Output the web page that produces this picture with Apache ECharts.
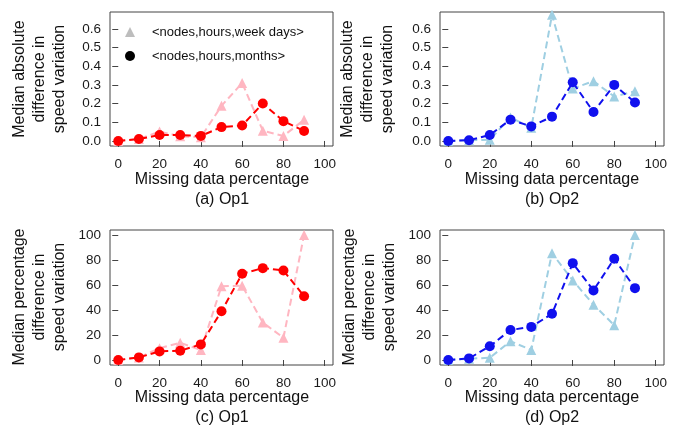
<!DOCTYPE html>
<html>
<head>
<meta charset="utf-8">
<script src="https://cdn.jsdelivr.net/npm/echarts@6/dist/echarts.min.js"></script>
<style>
  html, body { margin: 0; padding: 0; background: #fff; }
  #chart { width: 675px; height: 428px; }
</style>
</head>
<body>
<div id="chart"></div>
<script>
// Missing data percentage (x positions shared by every panel)
var missingPct = [0, 10, 20, 30, 40, 50, 60, 70, 80, 90];
var xTicks = [0, 20, 40, 60, 80, 100];
var absTicks = [0, 0.1, 0.2, 0.3, 0.4, 0.5, 0.6];
var pctTicks = [0, 20, 40, 60, 80, 100];

// Median absolute difference in speed variation
var absOp1Week  = [0, 0.01, 0.05, 0.025, 0.02, 0.188, 0.31, 0.055, 0.027, 0.113];
var absOp1Month = [0, 0.01, 0.032, 0.032, 0.027, 0.074, 0.083, 0.2, 0.106, 0.053];
var absOp2Week  = [0, 0.004, 0.007, 0.126, 0.07, 0.675, 0.28, 0.32, 0.238, 0.266];
var absOp2Month = [0, 0.004, 0.032, 0.114, 0.078, 0.13, 0.314, 0.155, 0.3, 0.206];

// Median percentage difference in speed variation
var pctOp1Week  = [0, 2, 9.5, 13.8, 8, 59, 59.4, 30, 17.8, 100];
var pctOp1Month = [0, 2.1, 6.9, 7.4, 12.5, 39, 69, 73.5, 71.6, 51];
var pctOp2Week  = [0, 1, 1.8, 15, 8, 85.4, 63.7, 44.3, 27.8, 100];
var pctOp2Month = [0, 1.3, 11, 24, 26.5, 37, 77.5, 55.7, 81, 57.5];

var nameWeek = '<nodes,hours,week days>';
var nameMonth = '<nodes,hours,months>';

var FONT = '"Liberation Sans", Arial, Helvetica, sans-serif';
var INK = '#1a1a1a';
var BOX = '#444';

function pairs(ys) {
  return missingPct.map(function (x, i) { return [x, ys[i]]; });
}

var grids = [
  { left: 110, top: 12, width: 223, height: 134 },
  { left: 440, top: 12, width: 224, height: 134 },
  { left: 110, top: 230, width: 223, height: 135 },
  { left: 440, top: 230, width: 224, height: 135 }
].map(function (g) {
  return Object.assign({ show: true, borderColor: BOX, borderWidth: 1, backgroundColor: 'transparent' }, g);
});

var xAxes = [0, 1, 2, 3].map(function (i) {
  return {
    type: 'value', gridIndex: i, min: -4, max: 104,
    axisLine: { show: false },
    splitLine: { show: false },
    axisTick: { show: true, length: 6, customValues: xTicks, lineStyle: { color: BOX } },
    axisLabel: { customValues: xTicks, margin: 11, color: INK, fontSize: 13.5, fontFamily: FONT }
  };
});

var yAxes = [0, 1, 2, 3].map(function (i) {
  var isAbs = i < 2;
  var ticks = isAbs ? absTicks : pctTicks;
  return {
    type: 'value', gridIndex: i,
    min: isAbs ? -0.027 : -4, max: isAbs ? 0.69 : 104,
    axisLine: { show: false },
    splitLine: { show: false },
    axisTick: { show: true, length: 6, customValues: ticks, lineStyle: { color: BOX } },
    axisLabel: {
      customValues: ticks, margin: 9, color: INK, fontSize: 13.5, fontFamily: FONT,
      formatter: function (v) { return isAbs ? v.toFixed(1) : String(Math.round(v)); }
    }
  };
});

var PINK = '#ffb6c1', RED = '#ff0000', LBLUE = '#9fcfe2', BLUE = '#1010ee';

function lineSeries(name, idx, ys, color, symbol, size, z) {
  return {
    name: name, type: 'line', xAxisIndex: idx, yAxisIndex: idx,
    data: pairs(ys), symbol: symbol, symbolSize: size, z: z,
    itemStyle: { color: color, borderWidth: 0 },
    lineStyle: { color: color, width: 2, type: [7, 4] },
    emphasis: { disabled: true }, animation: false
  };
}

var series = [
  lineSeries(nameWeek, 0, absOp1Week, PINK, 'triangle', 10, 2),
  lineSeries(nameMonth, 0, absOp1Month, RED, 'circle', 10, 3),
  lineSeries(nameWeek, 1, absOp2Week, LBLUE, 'triangle', 10, 2),
  lineSeries(nameMonth, 1, absOp2Month, BLUE, 'circle', 10, 3),
  lineSeries(nameWeek, 2, pctOp1Week, PINK, 'triangle', 10, 2),
  lineSeries(nameMonth, 2, pctOp1Month, RED, 'circle', 10, 3),
  lineSeries(nameWeek, 3, pctOp2Week, LBLUE, 'triangle', 10, 2),
  lineSeries(nameMonth, 3, pctOp2Month, BLUE, 'circle', 10, 3)
];

function txt(x, y, s, opts) {
  return Object.assign({
    type: 'text', x: x, y: y,
    style: Object.assign({
      text: s, fill: '#111', font: '16px ' + FONT,
      align: 'center', verticalAlign: 'middle'
    }, (opts && opts.style) || {})
  }, opts && opts.rotation ? { rotation: opts.rotation } : {});
}

var yTitleAbs = 'Median absolute\ndifference in\nspeed variation';
var yTitlePct = 'Median percentage\ndifference in\nspeed variation';
var rot = { rotation: Math.PI / 2, style: { lineHeight: 20 } };

var graphics = [
  txt(40, 79, yTitleAbs, rot),
  txt(368, 79, yTitleAbs, rot),
  txt(40, 297, yTitlePct, rot),
  txt(370, 297, yTitlePct, rot),
  txt(222, 180, 'Missing data percentage'),
  txt(552, 180, 'Missing data percentage'),
  txt(222, 398, 'Missing data percentage'),
  txt(552, 398, 'Missing data percentage'),
  txt(222, 200, '(a) Op1'),
  txt(552, 200, '(b) Op2'),
  txt(222, 418, '(c) Op1'),
  txt(552, 418, '(d) Op2')
];

var chart = echarts.init(document.getElementById('chart'), null, { renderer: 'canvas' });
chart.setOption({
  animation: false,
  backgroundColor: '#fff',
  grid: grids,
  xAxis: xAxes,
  yAxis: yAxes,
  legend: {
    orient: 'vertical', left: 120, top: 19,
    itemWidth: 10, itemHeight: 10, itemGap: 8,
    selectedMode: false,
    textStyle: { fontSize: 13, fontFamily: FONT, color: '#111', lineHeight: 16, padding: [0, 0, 0, 12] },
    data: [
      { name: nameWeek, icon: 'triangle', itemStyle: { color: '#bdbdbd', borderWidth: 0 } },
      { name: nameMonth, icon: 'circle', itemStyle: { color: '#000', borderWidth: 0 } }
    ]
  },
  graphic: graphics,
  series: series
});
</script>
</body>
</html>
